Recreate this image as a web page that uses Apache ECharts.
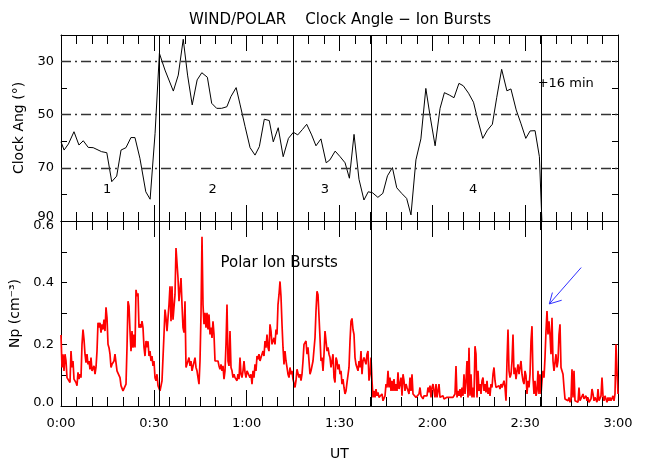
<!DOCTYPE html>
<html><head><meta charset="utf-8">
<script src="https://cdn.jsdelivr.net/npm/echarts@6/dist/echarts.min.js"></script>
<style>html,body{margin:0;padding:0;background:#fff}#c{width:647px;height:462px}</style>
</head><body><div id="c"></div>
<script>
// ---- data ----
const clockTimes = [0,1,2.4,4.2,5.8,7.2,8.8,10.4,13.1,14.8,16.4,18,19.4,21,22.6,23.9,25.5,27.4,28.8,30.4,31.8,33.6,36.3,37.9,39.5,40.9,42.4,44,45.5,47.3,48.7,50.3,51.9,53.6,54.9,56.6,57.9,59.5,61.1,62.7,64.1,65.7,67.3,68.6,70.2,71.8,73.5,75.1,76.5,78,79.4,81,82.4,84,85.7,86.9,88.6,90.2,91.8,93.2,94.7,96.3,97.9,99.3,100.7,102.4,104,105.5,107.1,108.5,110.1,111.7,113.1,114.7,116.3,117.9,119.3,120.9,122.5,123.9,125.5,127,128.6,130,131.7,133.3,134.7,136.3,137.8,139.4,140.8,142.4,144.1,145.4,147.1,148.6,150.2,151.6,153.2,154.6,155.4];
const clockAngles = [60.2,63.3,61,56.4,61.4,59.8,62.3,62.4,63.9,64.3,75.2,73.1,63.3,62.4,58.6,58.6,66.4,79,81.8,57,26.9,33.2,41.1,35.1,21.6,35.1,46.3,36.9,34.2,35.9,45.7,47.6,47.6,47,43.2,39.8,46.3,54.5,62.4,65.2,62,51.7,52.2,60.2,54.9,65.8,58.9,56.6,57.6,55.6,53.6,57.6,61.7,59.1,68.1,67,63.7,65.8,68.1,73.9,57.4,74.3,82.1,79,79.4,81.1,79.6,73,69.9,77.5,79.6,81.5,87.7,67,59.1,40.1,50.7,61.7,47.6,41.7,42.6,43.6,38.2,39.1,41.9,45.3,52,58.9,55.8,53.6,43.6,32.9,41,40.3,48.2,53.2,58.9,56.1,56,65.8,90];

// Polar ion density, sampled uniformly from 0:00 to 3:00
const npStepMin = 180 / 557;
const npValues = [
0.23,0.125,0.168,0.114,0.168,0.146,0.092,0.098,0.092,0.076,0.178,0.125,0.146,0.087,0.092,0.076,0.066,0.109,0.087,0.103,
0.092,0.2,0.248,0.216,0.168,0.141,0.168,0.135,0.146,0.119,0.157,0.114,0.119,0.13,0.103,0.125,0.178,0.27,0.254,0.27,
0.238,0.265,0.248,0.28,0.243,0.32,0.286,0.2,0.189,0.168,0.125,0.135,0.13,0.146,0.168,0.141,0.114,0.114,0.114,0.092,
0.066,0.06,0.049,0.044,0.049,0.071,0.19,0.34,0.324,0.243,0.178,0.243,0.189,0.232,0.19,0.377,0.356,0.366,0.254,0.265,
0.254,0.275,0.254,0.19,0.162,0.211,0.19,0.21,0.162,0.178,0.146,0.162,0.13,0.146,
0.092,0.082,0.103,0.066,0.06,0.049,0.044,0.082,0.157,0.232,0.313,0.286,0.243,0.286,0.329,0.388,0.275,0.388,0.28,0.275,
0.361,0.512,0.517,0.415,0.34,0.335,0.415,0.329,0.254,0.238,0.34,0.125,0.13,0.125,0.157,0.13,0.146,0.114,0.119,0.114,
0.157,0.125,0.114,0.092,0.071,0.146,0.297,0.549,0.329,0.265,0.302,0.254,0.302,0.248,0.297,0.232,0.254,0.221,0.275,0.232,
0.146,0.151,0.14,0.146,0.13,0.119,0.135,0.114,0.13,0.087,0.114,0.2,0.329,0.146,0.13,0.243,0.125,0.114,0.092,0.103,
0.092,0.098,0.082,0.103,0.087,0.157,0.103,0.092,0.114,0.146,0.109,0.092,0.114,
0.109,0.119,0.092,0.103,0.071,0.114,0.092,0.135,0.114,0.162,0.151,0.168,0.146,0.157,0.168,0.178,0.162,0.211,0.189,0.232,
0.19,0.178,0.265,0.243,0.2,0.194,0.221,0.2,0.248,0.232,0.329,0.361,0.404,0.355,0.265,0.19,0.135,0.178,0.146,0.125,
0.103,0.092,0.125,0.103,0.114,0.087,0.082,0.06,0.082,0.119,0.125,0.092,0.103,0.082,0.103,0.146,0.2,0.194,0.211,0.168,
0.19,0.146,0.103,0.114,0.114,0.146,0.146,0.221,0.308,0.372,0.361,0.29,0.221,0.146,0.157,0.114,0.168,0.243,0.211,0.178,
0.19,0.168,0.157,0.125,0.146,0.168,0.092,0.076,0.157,0.146,0.119,0.135,0.103,0.114,
0.071,0.087,0.06,0.039,0.049,0.076,0.082,0.125,0.211,0.275,0.284,0.248,0.232,0.157,0.135,0.14,0.114,0.146,0.125,0.178,
0.103,0.146,0.157,0.146,0.135,0.168,0.178,0.082,0.103,0.157,0.082,0.028,0.049,0.028,0.055,0.033,0.044,0.028,0.033,0.023,
0.039,0.017,0.012,0.033,0.071,0.06,0.114,0.06,0.092,0.049,0.082,0.049,0.087,0.049,0.071,0.049,0.109,0.055,0.071,0.092,
0.033,0.103,0.082,0.049,0.071,0.06,0.066,0.039,0.092,0.049,0.103,0.039,0.033,0.039,0.028,0.033,0.028,0.039,0.06,0.033,
0.039,0.023,0.033,0.028,0.039,0.033,0.06,0.044,0.066,0.028,0.06,0.071,0.049,0.028,
0.071,0.028,0.049,0.071,0.028,0.033,0.023,0.033,0.023,0.028,0.017,0.028,0.023,0.033,0.028,0.023,0.033,0.028,0.023,0.039,
0.13,0.028,0.049,0.033,0.055,0.028,0.06,0.033,0.103,0.039,0.082,0.146,0.028,0.189,0.033,0.103,0.028,0.06,0.028,0.194,
0.168,0.028,0.114,0.049,0.071,0.039,0.082,0.092,0.049,0.071,0.044,0.082,0.039,0.06,0.033,0.071,0.06,0.103,0.125,0.082,
0.06,0.066,0.055,0.066,0.055,0.071,0.06,0.055,0.082,0.06,0.017,0.146,0.248,0.114,0.092,0.103,0.146,0.232,0.103,0.125,
0.087,0.114,0.135,0.103,0.109,0.146,0.103,0.082,0.071,0.114,0.098,0.039,0.082,0.06,
0.103,0.211,0.259,0.092,0.039,0.082,0.033,0.049,0.114,0.039,0.103,0.039,0.082,0.114,0.092,0.157,0.243,0.308,0.232,0.275,
0.232,0.168,0.286,0.146,0.114,0.114,0.168,0.125,0.146,0.232,0.265,0.125,0.125,0.103,0.06,0.023,0.017,0.023,0.017,0.028,
0.012,0.023,0.119,0.028,0.114,0.017,0.023,0.017,0.012,0.06,0.017,0.023,0.012,0.039,0.023,0.017,0.033,0.017,0.028,0.012,
0.017,0.023,0.055,0.039,0.017,0.028,0.023,0.012,0.055,0.017,0.023,0.033,0.092,0.033,0.017,0.033,0.023,0.012,0.028,0.017,
0.028,0.017,0.023,0.033,0.017,0.039,0.2,0.114,0.039
];
const boundaryTimes = [31.8, 75.1, 100.1, 155.1];
const refAngles = [30, 50, 70];
const xTickLabels = ['0:00','0:30','1:00','1:30','2:00','2:30','3:00'];
const intervalLabels = [[14.9, 78.3, '1'], [49, 78.3, '2'], [85.3, 78.3, '3'], [133.2, 78.3, '4'], [163.1, 38.4, '+16 min']];
const burstLabel = [[70.5, 0.465, 'Polar Ion Bursts']];
const arrowTail = [168.1, 0.449], arrowHead = [157.8, 0.331], arrowWingA = [158.8, 0.368], arrowWingB = [161.8, 0.343];

// ---- chart ----
const FONT = 'DejaVu Sans';
const clockData = clockTimes.map((t, i) => [t, clockAngles[i]]);
const npData = npValues.map((v, i) => [i * npStepMin, v]);

function xAx(grid, pos, labels) {
  return {
    type: 'value', gridIndex: grid, position: pos, min: 0, max: 180, interval: 30,
    axisLine: { show: true, onZero: false, lineStyle: { color: '#000', width: 1 } },
    axisTick: { show: true, inside: true, length: 16, lineStyle: { color: '#000', width: 1 } },
    minorTick: { show: true, splitNumber: 6, length: 9, lineStyle: { color: '#000', width: 1 } },
    splitLine: { show: false }, minorSplitLine: { show: false },
    axisLabel: labels ? { show: true, margin: 11, color: '#000', fontFamily: FONT, fontSize: 13,
      formatter: v => xTickLabels[Math.round(v / 30)] } : { show: false },
    name: labels ? 'UT' : '', nameLocation: 'middle', nameGap: 41,
    nameTextStyle: { color: '#000', fontFamily: FONT, fontSize: 14 }
  };
}
const tickStyle = { show: true, inside: true, length: 6, lineStyle: { color: '#000', width: 1 } };
const lineAx = { show: true, onZero: false, lineStyle: { color: '#000', width: 1 } };
const lblBase = { color: '#000', fontFamily: FONT, fontSize: 13, margin: 7 };
const rich = {
  up: { color: '#000', fontFamily: FONT, fontSize: 13, padding: [0, 0, 8, 0] },
  dn: { color: '#000', fontFamily: FONT, fontSize: 13, padding: [10, 0, 0, 0] },
  up2: { color: '#000', fontFamily: FONT, fontSize: 13, padding: [0, 0, 7, 0] }
};
function textPoints(list, size) {
  return {
    symbol: 'circle', symbolSize: 0, silent: true, itemStyle: { color: 'rgba(0,0,0,0)' },
    label: { show: true, position: 'inside', color: '#000', opacity: 1, fontFamily: FONT, fontSize: size,
      formatter: p => p.data.txt },
    data: list.map(d => ({ coord: [d[0], d[1]], txt: d[2] }))
  };
}

const option = {
  animation: false,
  backgroundColor: '#fff',
  grid: [
    { left: 61, right: 29, top: 35, height: 186 },
    { left: 61, right: 29, top: 221, height: 186 }
  ],
  graphic: [{
    type: 'text', x: 340, y: 20,
    style: { text: 'WIND/POLAR    Clock Angle \u2212 Ion Bursts', fill: '#000', font: '15px "DejaVu Sans"',
      textAlign: 'center', textVerticalAlign: 'middle' }
  }],
  xAxis: [xAx(0, 'bottom', false), xAx(0, 'top', false), xAx(1, 'bottom', true), xAx(1, 'top', false)],
  yAxis: [
    { type: 'value', gridIndex: 0, position: 'left', min: 20, max: 90, interval: 10, inverse: true,
      axisLine: lineAx, axisTick: tickStyle, splitLine: { show: false },
      axisLabel: Object.assign({}, lblBase, { rich,
        formatter: v => v === 90 ? '{up|90}' : ([30, 50, 70].includes(v) ? String(v) : '') }),
      name: 'Clock Ang (\u00b0)', nameLocation: 'middle', nameGap: 29,
      nameTextStyle: { color: '#000', fontFamily: FONT, fontSize: 14 } },
    { type: 'value', gridIndex: 0, position: 'right', min: 20, max: 90, interval: 10, inverse: true,
      axisLine: lineAx, axisTick: tickStyle, splitLine: { show: false }, axisLabel: { show: false } },
    { type: 'value', gridIndex: 1, position: 'left', min: 0, max: 0.6, interval: 0.1,
      axisLine: lineAx, axisTick: tickStyle, splitLine: { show: false },
      axisLabel: Object.assign({}, lblBase, { rich,
        formatter: v => { const r = Math.round(v * 10); if (r % 2) return '';
          if (r === 6) return '{dn|0.6}'; if (r === 0) return '{up2|0.0}'; return (r / 10).toFixed(1); } }),
      name: 'Np (cm\u207b\u00b3)', nameLocation: 'middle', nameGap: 29,
      nameTextStyle: { color: '#000', fontFamily: FONT, fontSize: 14 } },
    { type: 'value', gridIndex: 1, position: 'right', min: 0, max: 0.6, interval: 0.1,
      axisLine: lineAx, axisTick: tickStyle, splitLine: { show: false }, axisLabel: { show: false } }
  ],
  series: [
    { type: 'line', xAxisIndex: 0, yAxisIndex: 0, data: clockData, showSymbol: false, symbol: 'none',
      lineStyle: { color: '#000', width: 1 }, z: 3,
      markPoint: textPoints(intervalLabels, 13),
      markLine: { silent: true, symbol: ['none', 'none'], label: { show: false },
        data: refAngles.map(a => ({ yAxis: a, lineStyle: { color: '#333', width: 1.3, type: [10, 4, 2, 4] } }))
          .concat(boundaryTimes.map(t => ({ xAxis: t, lineStyle: { color: '#000', width: 1, type: 'solid' } }))) } },
    { type: 'line', xAxisIndex: 2, yAxisIndex: 2, data: npData, showSymbol: false, symbol: 'none',
      lineStyle: { color: '#ff0000', width: 1.7 }, z: 3,
      markPoint: textPoints(burstLabel, 15),
      markLine: { silent: true, symbol: ['none', 'none'], label: { show: false },
        data: boundaryTimes.map(t => ({ xAxis: t, lineStyle: { color: '#000', width: 1, type: 'solid' } }))
          .concat([
            [{ coord: arrowTail, lineStyle: { color: '#3030ff', width: 1, type: 'solid' } }, { coord: arrowHead }],
            [{ coord: arrowHead, lineStyle: { color: '#3030ff', width: 1, type: 'solid' } }, { coord: arrowWingA }],
            [{ coord: arrowHead, lineStyle: { color: '#3030ff', width: 1, type: 'solid' } }, { coord: arrowWingB }]
          ]) } }
  ]
};
const chart = echarts.init(document.getElementById('c'), null, { renderer: 'canvas' });
chart.setOption(option);
</script></body></html>
